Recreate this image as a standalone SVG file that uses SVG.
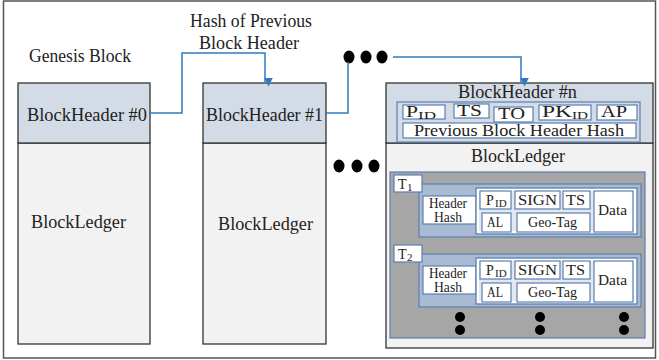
<svg xmlns="http://www.w3.org/2000/svg" width="659" height="360" viewBox="0 0 659 360">
<defs>
<marker id="arr" markerUnits="userSpaceOnUse" markerWidth="9" markerHeight="9" refX="4.5" refY="8" orient="auto-start-reverse" viewBox="0 0 9 9">
<path d="M0,0 L9,0 L4.5,9 z" fill="#2f7bbf" transform="rotate(-90 4.5 4.5)"/>
</marker>
<style>
text{font-family:"Liberation Serif","Times New Roman",serif;fill:#222}
.big{font-size:18px}
.fld{font-size:16px}
.sm{font-size:14px}
.sub{font-size:11px}
.hdr{fill:#d3dbe6;stroke:#333;stroke-width:1.3}
.led{fill:#f2f2f2;stroke:#333;stroke-width:1.3}
.bx{fill:#fff;stroke:#5b7fae;stroke-width:1.2}
.conn{fill:none;stroke:#2f7bbf;stroke-width:1.5}
.dot{fill:#000}
</style>
</defs>
<rect x="3.5" y="1" width="652" height="357" fill="#fff" stroke="#555" stroke-width="1.5"/>
<text class="big" x="29" y="62" textLength="102" lengthAdjust="spacingAndGlyphs">Genesis Block</text>
<text class="big" x="190" y="27" textLength="122" lengthAdjust="spacingAndGlyphs">Hash of Previous</text>
<text class="big" x="199" y="49" textLength="100" lengthAdjust="spacingAndGlyphs">Block Header</text>

<g id="genesis">
<rect class="led" x="18" y="143" width="132" height="201"/>
<rect class="hdr" x="18" y="83" width="132" height="60"/>
<text class="big" x="27" y="121" textLength="120" lengthAdjust="spacingAndGlyphs">BlockHeader #0</text>
<text class="big" x="31" y="228" textLength="95" lengthAdjust="spacingAndGlyphs">BlockLedger</text>
</g>

<g id="block1">
<rect class="led" x="203" y="143" width="123" height="201"/>
<rect class="hdr" x="203" y="83" width="123" height="60"/>
<text class="big" x="206" y="121" textLength="117" lengthAdjust="spacingAndGlyphs">BlockHeader #1</text>
<text class="big" x="218" y="230" textLength="95" lengthAdjust="spacingAndGlyphs">BlockLedger</text>
</g>

<g id="blockn">
<rect class="led" x="386" y="143" width="267" height="205"/>
<rect class="hdr" x="386" y="83" width="267" height="60"/>
<text class="big" x="458" y="98" textLength="119" lengthAdjust="spacingAndGlyphs">BlockHeader #n</text>
<rect x="397" y="102" width="243" height="40" fill="#d3dbe6" stroke="#5b7fae" stroke-width="1.2"/>
<rect class="bx" x="403" y="105" width="42" height="14"/>
<text class="fld" x="406" y="117" textLength="12" lengthAdjust="spacingAndGlyphs">P</text><text class="sub" x="418" y="119" textLength="18" lengthAdjust="spacingAndGlyphs">ID</text>
<rect class="bx" x="454" y="104" width="35" height="14"/>
<text class="fld" x="457" y="116" textLength="25" lengthAdjust="spacingAndGlyphs">TS</text>
<rect class="bx" x="539" y="105" width="52" height="15"/>
<text class="fld" x="542" y="117" textLength="30" lengthAdjust="spacingAndGlyphs">PK</text><text class="sub" x="572" y="119" textLength="16" lengthAdjust="spacingAndGlyphs">ID</text>
<rect class="bx" x="597" y="105" width="40" height="15"/>
<text class="fld" x="601" y="117" textLength="26" lengthAdjust="spacingAndGlyphs">AP</text>
<rect class="bx" x="403" y="123" width="233" height="15"/>
<text class="fld" x="414" y="136" textLength="210" lengthAdjust="spacingAndGlyphs">Previous Block Header Hash</text>
<rect class="bx" x="494" y="107" width="39" height="15" fill="none"/>
<text class="fld" x="498" y="119" textLength="27" lengthAdjust="spacingAndGlyphs">TO</text>
<text class="big" x="471" y="162" textLength="94" lengthAdjust="spacingAndGlyphs">BlockLedger</text>
<rect x="390" y="172" width="255" height="166" fill="#a6a6a6" stroke="#5b7fae" stroke-width="1.2"/>
</g>

<g id="tx1">
<rect x="419" y="184" width="222" height="53" fill="#a9bad3" stroke="#5b7fae" stroke-width="1.2"/>
<rect class="bx" x="394" y="175" width="28" height="17"/>
<text class="sm" x="398" y="189">T</text><text class="sub" x="407" y="191" font-size="8">1</text>
<rect class="bx" x="423" y="196" width="53" height="28"/>
<text class="sm" x="429" y="208" textLength="38" lengthAdjust="spacingAndGlyphs">Header</text>
<text class="sm" x="434" y="222" textLength="28" lengthAdjust="spacingAndGlyphs">Hash</text>
<rect x="476" y="188" width="161" height="46" fill="#e3e8ef" stroke="#5b7fae" stroke-width="1.2"/>
<rect x="478" y="190" width="157" height="42" fill="none" stroke="#fff" stroke-width="2"/>
<rect class="bx" x="480" y="191" width="31" height="18"/>
<text class="sm" x="486" y="205">P</text><text class="sub" x="495" y="207" font-size="8">ID</text>
<rect class="bx" x="515" y="191" width="45" height="18"/>
<text class="sm" x="518" y="205" textLength="39" lengthAdjust="spacingAndGlyphs">SIGN</text>
<rect class="bx" x="563" y="191" width="27" height="18"/>
<text class="sm" x="566" y="205" textLength="19" lengthAdjust="spacingAndGlyphs">TS</text>
<rect class="bx" x="482" y="213" width="29" height="19"/>
<text class="sm" x="487" y="227" textLength="16" lengthAdjust="spacingAndGlyphs">AL</text>
<rect class="bx" x="517" y="213" width="73" height="19"/>
<text class="sm" x="528" y="227" textLength="49" lengthAdjust="spacingAndGlyphs">Geo-Tag</text>
<rect class="bx" x="594" y="191" width="39" height="41"/>
<text class="sm" x="598" y="215" textLength="29" lengthAdjust="spacingAndGlyphs">Data</text>
</g>

<g id="tx2" transform="translate(0,70)">
<rect x="419" y="184" width="222" height="53" fill="#a9bad3" stroke="#5b7fae" stroke-width="1.2"/>
<rect class="bx" x="394" y="175" width="28" height="17"/>
<text class="sm" x="398" y="189">T</text><text class="sub" x="407" y="191" font-size="8">2</text>
<rect class="bx" x="423" y="196" width="53" height="28"/>
<text class="sm" x="429" y="208" textLength="38" lengthAdjust="spacingAndGlyphs">Header</text>
<text class="sm" x="434" y="222" textLength="28" lengthAdjust="spacingAndGlyphs">Hash</text>
<rect x="476" y="188" width="161" height="46" fill="#e3e8ef" stroke="#5b7fae" stroke-width="1.2"/>
<rect x="478" y="190" width="157" height="42" fill="none" stroke="#fff" stroke-width="2"/>
<rect class="bx" x="480" y="191" width="31" height="18"/>
<text class="sm" x="486" y="205">P</text><text class="sub" x="495" y="207" font-size="8">ID</text>
<rect class="bx" x="515" y="191" width="45" height="18"/>
<text class="sm" x="518" y="205" textLength="39" lengthAdjust="spacingAndGlyphs">SIGN</text>
<rect class="bx" x="563" y="191" width="27" height="18"/>
<text class="sm" x="566" y="205" textLength="19" lengthAdjust="spacingAndGlyphs">TS</text>
<rect class="bx" x="482" y="213" width="29" height="19"/>
<text class="sm" x="487" y="227" textLength="16" lengthAdjust="spacingAndGlyphs">AL</text>
<rect class="bx" x="517" y="213" width="73" height="19"/>
<text class="sm" x="528" y="227" textLength="49" lengthAdjust="spacingAndGlyphs">Geo-Tag</text>
<rect class="bx" x="594" y="191" width="39" height="41"/>
<text class="sm" x="598" y="215" textLength="29" lengthAdjust="spacingAndGlyphs">Data</text>
</g>

<g id="ellipses">
<ellipse class="dot" cx="349" cy="57" rx="5.5" ry="6.5"/>
<ellipse class="dot" cx="366" cy="57" rx="5.5" ry="6.5"/>
<ellipse class="dot" cx="382" cy="57" rx="5.5" ry="6.5"/>
<ellipse class="dot" cx="339" cy="166" rx="5.5" ry="6.5"/>
<ellipse class="dot" cx="357" cy="166" rx="5.5" ry="6.5"/>
<ellipse class="dot" cx="374" cy="166" rx="5.5" ry="6.5"/>
<ellipse class="dot" cx="460" cy="317" rx="5" ry="5"/>
<ellipse class="dot" cx="460" cy="330" rx="5" ry="5"/>
<ellipse class="dot" cx="540" cy="317" rx="5" ry="5"/>
<ellipse class="dot" cx="540" cy="330" rx="5" ry="5"/>
<ellipse class="dot" cx="624" cy="317" rx="5" ry="5"/>
<ellipse class="dot" cx="624" cy="330" rx="5" ry="5"/>
</g>

<g id="connectors">
<path class="conn" d="M150,113 H182 V53 H265 V82" marker-end="url(#arr)"/>
<path class="conn" d="M326,113 H348 V62"/>
<path class="conn" d="M393,57 H521 V82" marker-end="url(#arr)"/>
</g>
</svg>
